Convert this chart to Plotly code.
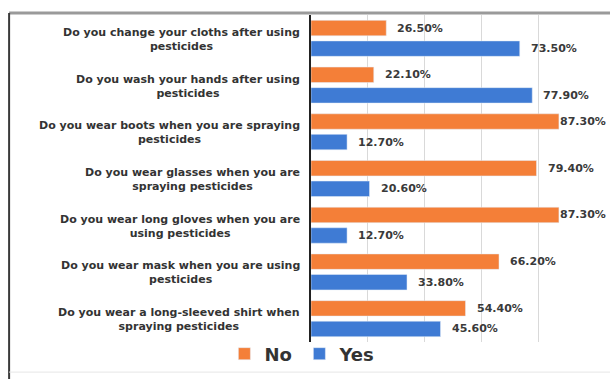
import plotly.graph_objects as go

# Survey questions on protective practices when handling pesticides
questions = [
    "Do you change your cloths after using<br>pesticides",
    "Do you wash your hands after using<br>pesticides",
    "Do you wear boots when you are spraying<br>pesticides",
    "Do you wear glasses when you are<br>spraying pesticides",
    "Do you wear long gloves when you are<br>using pesticides",
    "Do you wear mask when you are using<br>pesticides",
    "Do you wear a long-sleeved shirt when<br>spraying pesticides",
]
no_pct = [26.5, 22.1, 87.3, 79.4, 87.3, 66.2, 54.4]
yes_pct = [73.5, 77.9, 12.7, 20.6, 12.7, 33.8, 45.6]

ORANGE = "#F47F38"
BLUE = "#3F7BD4"
FAMILY = "DejaVu Sans, Arial, sans-serif"

W, H = 610, 379
M_L, M_R, M_T, M_B = 311, 15, 15, 37
X_MAX = 100
BARGAP, GROUPGAP = 0.12, 0.25

plot_w = W - M_L - M_R
plot_h = H - M_T - M_B
band_px = plot_h / len(questions)
px_per_unit = plot_w / X_MAX
# vertical offset of each bar from its category centre (two bars per group)
slot_off = (1 - BARGAP) / 4 * band_px
LABEL_W = 50      # approximate width of a value label
LABEL_PAD = 9

fig = go.Figure()
fig.add_trace(go.Bar(name="No", y=questions, x=no_pct, orientation="h",
                     marker=dict(color=ORANGE)))
fig.add_trace(go.Bar(name="Yes", y=questions, x=yes_pct, orientation="h",
                     marker=dict(color=BLUE)))


def value_label(q, v, dy):
    # keep labels near the end of the bar, pulled back if they would run off the page
    room = W - 2 - (M_L + v * px_per_unit)
    shift = min(LABEL_PAD, room - LABEL_W)
    fig.add_annotation(
        x=v, xref="x", y=q, yref="y", yshift=dy, xshift=shift,
        text=f"{v:.2f}%", showarrow=False, xanchor="left", yanchor="middle",
        font=dict(family=FAMILY, size=11, color="#3a3a3a", weight="bold"),
    )


for q, n, y in zip(questions, no_pct, yes_pct):
    value_label(q, n, slot_off)
    value_label(q, y, -slot_off)

# Centred two-line question labels to the left of the axis
for q in questions:
    fig.add_annotation(
        x=-0.03, xref="paper", y=q, yref="y", yshift=-1,
        text=q, showarrow=False, xanchor="right", yanchor="middle",
        align="center",
        font=dict(family=FAMILY, size=11, color="#333333", weight="bold"),
    )

# Surrounding frame lines
fig.add_shape(type="line", xref="paper", yref="paper",
              x0=-1.063, x1=1.1, y0=1.006, y1=1.006,
              line=dict(color="#9a9a9a", width=3))
fig.add_shape(type="line", xref="paper", yref="paper",
              x0=-1.063, x1=-1.063, y0=1.006, y1=-0.2,
              line=dict(color="#3a3a3a", width=2))
fig.add_shape(type="line", xref="paper", yref="paper",
              x0=-1.063, x1=1.1, y0=-0.092, y1=-0.092,
              line=dict(color="#e6e6e6", width=1))

fig.update_layout(
    width=W, height=H,
    margin=dict(l=M_L, r=M_R, t=M_T, b=M_B, autoexpand=False),
    paper_bgcolor="white", plot_bgcolor="white",
    barmode="group", bargap=BARGAP, bargroupgap=GROUPGAP,
    showlegend=True,
    legend=dict(orientation="h", x=-0.305, xanchor="left", y=0.02, yanchor="top",
                font=dict(family=FAMILY, size=18, color="#333333", weight="bold"),
                itemwidth=30, traceorder="normal", bgcolor="rgba(0,0,0,0)",
                entrywidth=30, entrywidthmode="pixels"),
    font=dict(family=FAMILY),
)
fig.update_xaxes(range=[0, X_MAX], dtick=20, showgrid=True, gridcolor="#d9d9d9",
                 gridwidth=1, showticklabels=False, zeroline=False, showline=False)
fig.update_yaxes(autorange="reversed", showticklabels=False, showgrid=False,
                 showline=True, linecolor="#222222", linewidth=2, ticks="")

fig.write_html("out.html")
